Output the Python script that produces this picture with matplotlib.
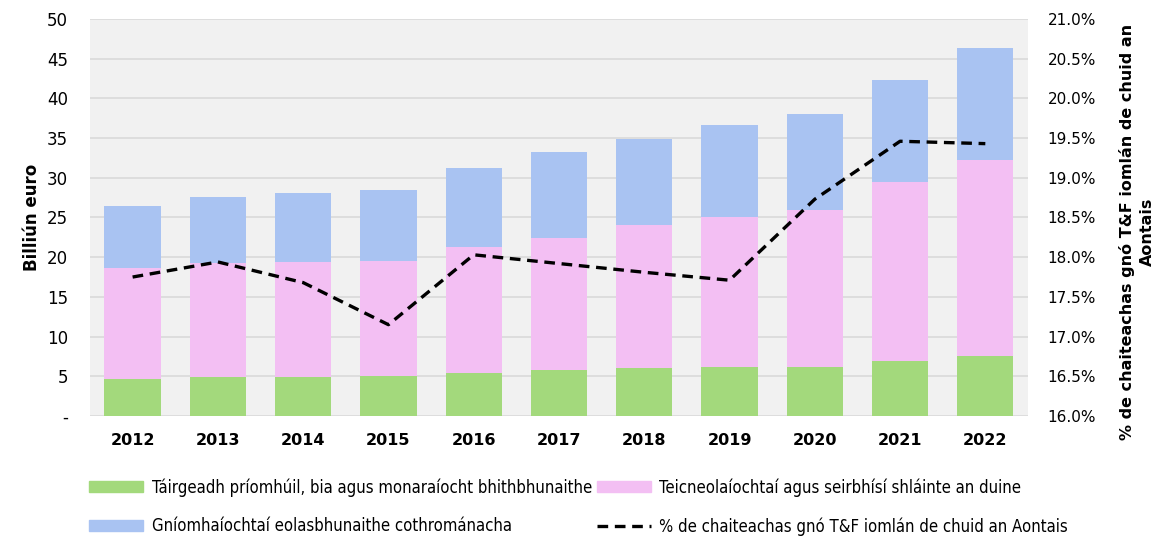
import matplotlib.pyplot as plt
from matplotlib.ticker import FuncFormatter, MultipleLocator
from matplotlib.patches import Patch
from matplotlib.lines import Line2D

years = ["2012", "2013", "2014", "2015", "2016", "2017",
         "2018", "2019", "2020", "2021", "2022"]
primary = [4.6, 4.9, 4.9, 5.0, 5.4, 5.8, 6.0, 6.2, 6.2, 6.9, 7.5]
health_top = [18.6, 19.3, 19.4, 19.5, 21.3, 22.4, 24.0, 25.0, 25.9, 29.5, 32.2]
totals = [26.4, 27.6, 28.1, 28.5, 31.2, 33.3, 34.9, 36.6, 38.0, 42.3, 46.4]
share_pct = [17.75, 17.94, 17.68, 17.15, 18.03, 17.92, 17.81, 17.71,
             18.73, 19.46, 19.43]

health = [t - p for t, p in zip(health_top, primary)]
knowledge = [t - h for t, h in zip(totals, health_top)]

green = "#a3d97c"
pink = "#f3bff3"
blue = "#a9c3f2"
dash = (0, (3.2, 2))

fig = plt.figure(figsize=(11.58, 5.36), dpi=100)
ax = fig.add_axes([0.0777, 0.2239, 0.81, 0.7407])
ax.set_facecolor("#f1f1f1")

x = list(range(len(years)))
width = 0.66
ax.bar(x, primary, width, color=green, zorder=2)
ax.bar(x, health, width, bottom=primary, color=pink, zorder=2)
ax.bar(x, knowledge, width, bottom=health_top, color=blue, zorder=2)

ax.set_xlim(-0.5, len(years) - 0.5)
ax.set_ylim(0, 50)
ax.yaxis.set_major_locator(MultipleLocator(5))
ax.yaxis.set_major_formatter(
    FuncFormatter(lambda v, _: "-" if v == 0 else f"{v:.0f}"))
ax.grid(axis="y", color="#d9d9d9", linewidth=1.2, zorder=0)
ax.set_axisbelow(True)
ax.set_xticks(x)
ax.set_xticklabels(years, fontsize=11.5, fontweight="bold")
ax.tick_params(axis="both", length=0, labelsize=12)
ax.tick_params(axis="x", pad=12, labelsize=11.5)
ax.tick_params(axis="y", pad=16)
for s in ax.spines.values():
    s.set_visible(False)
ax.set_ylabel("Billiún euro", fontsize=12, fontweight="bold", labelpad=4)

ax2 = ax.twinx()
ax2.plot(x, share_pct, color="black", linestyle=dash,
         linewidth=2.4, zorder=5)
ax2.set_ylim(16.0, 21.0)
ax2.yaxis.set_major_locator(MultipleLocator(0.5))
ax2.yaxis.set_major_formatter(FuncFormatter(lambda v, _: f"{v:.1f}%"))
ax2.tick_params(axis="y", length=0, labelsize=11, pad=14)
for s in ax2.spines.values():
    s.set_visible(False)

fig.text(1137 / 1158, 1 - 232 / 536,
         "% de chaiteachas gnó T&F iomlán de chuid an\nAontais",
         rotation=90, ha="center", va="center", multialignment="center",
         fontsize=11.5, fontweight="bold", linespacing=1.35)

handles = [
    Patch(color=green, label="Táirgeadh príomhúil, bia agus monaraíocht bhithbhunaithe"),
    Patch(color=blue, label="Gníomhaíochtaí eolasbhunaithe cothrománacha"),
    Patch(color=pink, label="Teicneolaíochtaí agus seirbhísí shláinte an duine"),
    Line2D([], [], color="black", linestyle=dash, linewidth=2.4,
           label="% de chaiteachas gnó T&F iomlán de chuid an Aontais"),
]
fig.legend(handles=handles, ncol=2, loc="upper left",
           bbox_to_anchor=(0.0769, 0.108), frameon=False,
           prop={"family": "DejaVu Sans", "stretch": "condensed", "size": 12},
           handlelength=3.25, handleheight=0.6, handletextpad=0.5,
           columnspacing=0.3, labelspacing=1.25, borderaxespad=0,
           borderpad=0)

fig.savefig("out.png", dpi=100)
